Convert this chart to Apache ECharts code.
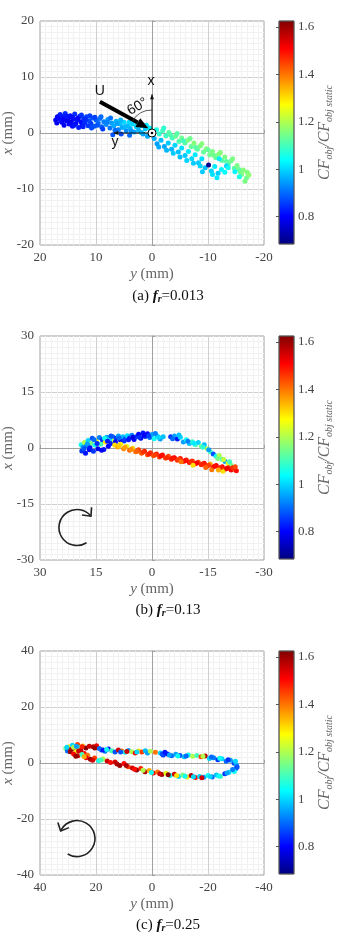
<!DOCTYPE html>
<html>
<head>
<meta charset="utf-8">
<script src="https://cdn.jsdelivr.net/npm/echarts@6/dist/echarts.min.js"></script>
<style>
  html, body { margin: 0; padding: 0; background: #fff; }
  #chart { width: 337px; height: 932px; }
</style>
</head>
<body>
<div id="chart"></div>
<script>
// [y (mm), x (mm), CF/CF static]
const pointsA = [
  [17.2,2.3,0.80],[17.0,1.8,0.79],[16.6,2.6,0.81],[16.4,3.3,0.83],[16.1,1.9,0.80],[15.9,2.9,0.82],[15.7,1.4,0.79],
  [15.5,3.5,0.84],[15.3,2.2,0.80],[15.0,2.7,0.81],[14.8,1.6,0.80],[14.6,3.1,0.82],[14.4,2.0,0.79],[14.2,1.2,0.81],
  [14.0,2.6,0.80],[13.8,3.4,0.84],[13.6,1.7,0.80],[13.4,2.3,0.82],[13.1,1.0,0.83],[12.9,3.0,0.84],[12.7,2.0,0.81],
  [12.5,1.4,0.82],[12.2,2.6,0.85],[12.0,1.8,0.84],[11.7,2.9,0.86],[11.4,1.3,0.85],[11.2,2.2,0.87],[10.9,1.7,0.86],
  [10.6,2.7,0.88],[10.3,1.2,0.88],[10.0,2.3,0.89],[9.6,1.8,0.90],[9.3,2.6,0.91],[9.0,1.1,0.89],[8.6,2.0,0.92],
  [8.2,1.5,0.93],[7.9,2.4,0.94],[7.5,0.9,0.91],[7.2,1.8,0.95],[6.8,1.3,0.96],[6.4,2.1,0.97],[6.0,0.6,0.92],
  [5.7,1.6,0.98],[5.3,1.0,0.96],[5.0,1.9,1.00],[4.6,0.4,0.93],[4.3,1.3,0.98],[3.9,0.8,0.97],[3.5,1.6,1.00],
  [3.2,0.2,0.95],[2.8,1.1,0.99],[2.4,0.5,0.97],[2.0,1.3,1.01],[1.6,-0.2,0.95],[1.2,0.7,0.99],[0.8,-0.6,0.96],
  [0.4,0.9,1.02],[7.0,-0.3,0.88],[5.5,-0.2,0.87],[4.0,-0.4,0.90],
  [16.9,2.9,0.80],[16.2,2.2,0.81],[15.8,2.4,0.80],[15.2,3.0,0.82],[14.9,2.1,0.79],[14.3,2.8,0.81],[13.9,1.4,0.82],
  [13.2,2.7,0.80],[12.6,3.2,0.85],[12.3,1.1,0.83],[11.9,2.4,0.84],[11.1,3.1,0.86],[10.8,0.9,0.87],[10.2,2.8,0.86],
  [9.8,1.4,0.88],[9.1,2.9,0.90],[8.8,0.7,0.86],[8.0,1.9,0.92],[7.4,2.7,0.91],[6.6,0.5,0.90],[6.2,1.7,0.95],
  [5.6,2.3,0.97],[4.8,1.1,0.97],[4.1,1.9,1.00],[3.7,0.3,0.94],[2.6,1.6,1.00],[1.9,0.1,0.97],[1.0,1.4,1.01],
  [-0.8,0.6,1.06],[-1.3,-0.2,1.08],[-1.9,0.4,1.10],[-2.5,-0.5,1.09],[-3.0,0.1,1.12],[-3.6,-0.9,1.10],[-4.2,-0.6,1.13],
  [-4.8,-1.5,1.11],[-5.3,-0.9,1.14],[-5.9,-1.8,1.12],[-6.4,-1.3,1.15],[-7.0,-2.4,1.13],[-7.5,-1.8,1.16],[-8.1,-2.9,1.12],
  [-8.6,-2.3,1.15],[-9.2,-3.4,1.13],[-9.7,-2.8,1.16],[-10.3,-3.9,1.14],[-10.8,-3.3,1.15],[-11.4,-4.4,1.13],[-11.9,-3.8,1.16],
  [-12.5,-4.9,1.12],[-13.0,-4.3,1.15],[-13.6,-5.6,1.11],[-14.1,-5.0,1.14],[-14.7,-6.3,1.12],[-15.2,-5.8,1.15],[-15.8,-7.0,1.13],
  [-16.3,-6.6,1.16],[-16.9,-8.0,1.14],[-17.3,-7.5,1.17],[-16.6,-8.6,1.15],
  [-2.1,0.9,1.08],[-3.3,-0.3,1.11],[-4.5,-0.1,1.12],[-5.6,-1.4,1.10],[-6.8,-1.0,1.14],[-7.8,-2.6,1.12],[-8.9,-1.9,1.16],
  [-10.0,-3.0,1.13],[-11.1,-4.0,1.14],[-12.2,-3.5,1.16],[-13.3,-5.1,1.12],[-14.4,-4.6,1.15],[-15.5,-6.5,1.13],[-16.0,-7.4,1.15],
  [-17.0,-7.0,1.16],[-12.0,-4.6,1.02],[-13.3,-5.9,1.00],[-14.8,-6.9,1.03],[-15.6,-7.8,1.06],
  [-0.4,-1.0,0.97],[-0.9,-1.9,0.95],[-1.6,-1.3,0.98],[-2.2,-2.4,0.96],[-2.9,-1.8,0.99],[-3.5,-2.9,0.97],[-4.1,-2.2,1.00],
  [-4.7,-3.4,0.98],[-5.3,-2.7,1.01],[-5.9,-4.0,0.99],[-6.5,-3.3,1.02],[-7.1,-4.6,1.00],[-7.7,-3.9,1.02],[-8.3,-5.3,0.99],
  [-8.9,-4.6,1.01],[-9.5,-6.2,0.98],[-10.1,-5.7,0.70],[-10.6,-6.8,1.00],[-11.2,-6.0,1.02],[-11.8,-7.2,0.99],[-12.4,-6.5,1.03],
  [-13.0,-7.0,1.04],[-13.6,-6.2,1.05],
  [-1.2,-2.5,0.96],[-2.6,-3.1,0.97],[-3.8,-3.6,0.99],[-5.0,-4.3,0.98],[-6.2,-4.9,1.00],[-7.4,-5.4,0.99],[-8.6,-5.9,1.00],
  [-9.0,-6.9,0.99],[-10.8,-7.4,1.01],[-11.6,-8.0,1.02]
];
const pointsB = [
  [19.0,0.9,1.05],[18.8,-0.8,0.85],[18.5,0.3,0.95],[18.1,1.5,1.20],[17.8,-1.4,0.82],[17.5,0.6,0.90],[17.1,2.0,1.00],
  [16.8,-0.5,0.80],[16.4,1.2,1.15],[16.0,2.6,0.88],[15.7,-0.9,0.85],[15.3,0.8,1.05],[14.9,1.9,1.25],[14.5,-0.2,0.78],
  [14.1,2.8,0.92],[13.7,1.0,1.10],[13.3,2.2,0.85],[12.9,-0.4,0.82],[12.5,1.6,1.30],[12.1,2.9,0.95],[11.7,0.5,0.80],
  [11.3,2.4,1.00],[10.9,1.2,0.83],[10.5,3.0,0.90],[10.1,2.0,1.20],
  [18.2,-0.2,0.88],[17.3,1.1,0.95],[16.6,0.1,0.82],[15.5,2.2,0.90],[14.7,1.2,0.84],[13.5,-0.6,0.80],[12.7,2.6,1.05],
  [11.9,1.8,0.82],[11.0,3.2,0.88],
  [9.6,2.6,0.85],[9.0,3.2,0.95],[8.4,2.1,0.80],[7.8,3.0,0.98],[7.2,2.5,0.88],[6.6,3.3,1.00],[6.0,2.7,0.83],
  [5.4,3.4,0.92],[4.8,2.3,0.80],[4.2,3.0,0.86],[3.6,3.7,0.80],[3.0,2.6,0.78],[2.4,4.0,0.82],[1.8,3.1,0.85],
  [1.2,3.8,0.80],[0.6,2.8,0.90],[0.0,3.6,0.95],[-0.6,2.5,1.05],[-1.4,3.2,1.00],[-2.2,2.4,0.95],[-3.0,3.0,0.98],
  [9.8,1.6,0.80],[8.8,2.7,0.90],[7.5,1.9,0.85],[6.3,2.2,0.82],[5.1,2.9,0.78],[3.3,2.9,0.84],[2.1,3.4,0.80],
  [0.9,3.3,0.86],[-0.9,3.9,0.92],[-1.8,2.9,1.00],
  [-5.0,3.0,0.85],[-6.0,3.2,0.95],[-6.8,2.4,0.82],[-7.6,2.9,1.00],[-8.4,1.6,0.95],[-9.2,2.2,1.05],[-10.0,1.2,0.98],
  [-10.8,1.7,1.08],[-11.6,0.9,1.10],[-12.4,1.5,1.00],[-13.2,0.4,1.15],[-14.0,0.9,0.98],[-14.8,-0.2,1.20],[-15.6,-1.0,1.10],
  [-16.4,-1.6,0.88],[-17.2,-2.2,1.05],[-18.0,-2.0,1.20],[-18.8,-3.0,1.10],[-19.6,-3.6,0.95],[-20.4,-4.1,1.25],[-21.2,-4.6,1.15],
  [-5.5,2.5,0.90],[-7.2,3.5,0.98],[-9.6,1.8,0.92],[-11.2,1.3,1.02],[-13.6,0.2,1.08],[-15.2,-0.5,0.95],[-17.6,-2.8,1.15],
  [-19.2,-3.1,1.22],[-20.8,-3.7,1.10],
  [10.0,0.8,1.30],[9.2,0.3,1.35],[8.4,1.0,1.28],[7.6,-0.2,1.38],[6.8,0.5,1.25],[6.0,-0.6,1.42],[5.2,-0.1,1.32],
  [4.4,-1.0,1.40],[3.6,-0.5,1.45],[2.8,-1.4,1.42],[2.0,-0.9,1.48],[1.2,-1.8,1.44],[0.4,-1.3,1.46],[-0.4,-2.1,1.43],
  [-1.2,-1.6,1.48],[-2.0,-2.4,1.45],[-2.8,-1.9,1.50],[-3.6,-2.7,1.46],[-4.4,-2.2,1.44],[-5.2,-3.0,1.48],[-6.0,-2.6,1.50],
  [-6.8,-3.3,1.46],[-7.6,-2.8,1.49],[-8.4,-3.6,1.45],[-9.2,-3.2,1.48],[-10.0,-3.9,1.50],[-10.8,-3.5,1.46],[-11.6,-4.2,1.49],
  [-12.4,-3.8,1.44],[-13.2,-4.5,1.47],[-14.0,-4.1,1.50],[-14.8,-4.8,1.46],[-15.6,-4.3,1.35],[-16.4,-5.1,1.48],[-17.2,-4.7,1.52],
  [-18.0,-5.4,1.47],[-18.8,-5.0,1.50],[-19.6,-5.7,1.45],[-20.4,-5.3,1.49],[-21.2,-5.9,1.51],[-22.0,-5.6,1.46],[-22.6,-6.1,1.50],
  [-19.0,-6.2,1.30],[-16.0,-5.8,1.40],
  [8.8,0.6,1.32],[7.2,0.2,1.36],[5.6,-0.4,1.38],[4.0,-0.9,1.42],[2.4,-1.1,1.46],[0.8,-1.6,1.48],[-0.8,-1.8,1.45],
  [-2.4,-2.1,1.50],[-4.0,-2.6,1.47],[-5.6,-2.7,1.49],[-7.2,-3.0,1.45],[-8.8,-3.4,1.50],[-10.4,-3.7,1.47],[-12.0,-4.0,1.51],
  [-13.6,-4.3,1.48],[-15.2,-4.6,1.45],[-16.8,-4.9,1.50],[-18.4,-5.2,1.48],[-20.0,-5.5,1.52],[-21.6,-5.3,1.47],[-22.3,-5.0,1.44],
  [-17.8,-5.9,1.35],[-14.4,-5.2,1.42],[-11.0,-4.6,1.30],[-7.8,-3.7,1.40]
];
const pointsC = [
  [30.8,5.2,1.15],[30.2,4.3,0.90],[29.6,5.8,1.30],[29.0,4.8,1.55],[28.4,6.3,1.00],[27.8,5.2,1.60],[27.2,4.0,1.25],
  [26.6,6.6,1.45],[26.0,5.5,1.10],[25.4,4.5,1.58],[24.8,6.1,1.35],[24.2,3.4,1.50],[23.6,5.4,1.62],[23.0,2.8,1.40],
  [22.4,6.0,1.55],[21.0,5.8,1.58],[19.8,6.2,1.52],[18.0,4.6,0.85],[16.8,4.2,0.92],[15.6,5.0,0.80],[14.4,4.4,1.10],
  [13.2,3.9,0.88],[12.0,4.6,1.55],[10.8,4.3,1.40],[9.6,3.8,1.05],[8.4,4.5,0.95],[7.2,4.0,1.20],[6.0,3.6,1.50],
  [4.8,4.3,1.30],[3.6,3.9,1.45],[2.4,4.4,0.98],[1.6,3.6,0.95],[0.6,4.2,1.20],[-1.2,3.8,1.40],
  [-3.0,3.6,1.00],[-4.0,2.9,0.85],[-5.5,3.2,0.82],[-7.0,2.6,0.90],
  [-8.5,3.1,0.95],[-10.0,2.7,0.88],[-11.5,2.2,0.98],[-13.0,2.9,1.05],[-14.5,2.4,1.20],[-16.0,2.7,1.10],[-17.5,2.2,1.45],
  [-19.0,2.5,1.58],[-20.5,1.6,1.00],[-22.0,1.9,0.92],[-23.5,1.2,0.85],[-25.0,1.5,1.00],[-26.5,0.6,0.90],[-28.0,1.0,0.95],
  [-29.3,-0.1,0.88],[-30.2,-0.8,0.95],[-30.0,-2.0,0.90],[-29.4,-3.0,1.05],
  [30.4,5.6,1.00],[29.2,4.0,1.60],[28.0,5.6,1.20],[27.0,6.0,0.95],[26.2,4.3,1.55],[25.0,5.8,1.48],[20.4,5.4,1.60],
  [18.8,5.2,0.90],[17.4,4.6,0.82],[16.2,4.8,1.05],[11.2,3.9,0.88],[9.0,4.1,1.55],[5.4,3.9,1.00],[-3.6,3.2,0.88],
  [-4.6,3.8,0.82],[-6.2,2.9,0.95],[-9.2,2.5,1.05],[-12.2,2.5,0.90],[-18.2,2.4,1.20],[-21.2,2.1,0.90],[-24.2,1.7,1.05],
  [-27.2,1.2,0.85],[-29.8,0.6,1.00],[-30.4,-1.4,0.88],
  [28.0,3.2,1.50],[26.5,2.6,1.55],[25.0,3.0,1.10],[23.5,1.9,1.52],[22.0,1.3,1.60],[20.5,1.8,1.45],[19.0,0.9,1.05],
  [17.5,1.4,1.20],[16.0,0.7,1.55],[14.8,0.2,1.50],[13.2,0.4,1.55],[12.5,-0.4,1.58],[11.5,-0.9,1.60],[10.0,-0.2,1.50],
  [8.5,-1.3,1.45],[7.0,-1.8,1.55],[5.5,-2.5,1.62],[4.0,-2.0,1.48],[2.5,-3.1,1.58],[1.0,-2.7,1.35],[-0.5,-3.6,1.50],
  [-2.0,-3.2,1.40],[-3.5,-4.1,1.60],[-5.0,-3.7,1.25],[-6.5,-4.5,1.05],[-8.0,-4.0,1.55],[-9.5,-4.8,1.00],[-11.0,-4.3,1.15],
  [-12.5,-5.0,1.30],[-14.0,-4.5,1.58],[-15.5,-5.2,1.50],[-17.0,-4.8,1.00],[-18.5,-5.1,0.95],[-20.0,-4.5,1.05],[-21.5,-5.0,0.90],
  [-23.0,-4.3,0.98],[-24.5,-4.7,1.10],[-26.0,-3.8,0.85],[-27.5,-3.3,1.00],[-28.8,-2.3,0.92],
  [27.2,2.4,1.60],[24.2,2.2,1.35],[21.2,1.0,1.55],[18.2,1.1,1.10],[9.2,-0.9,1.58],[6.2,-2.2,1.50],[3.2,-2.6,1.20],
  [0.2,-3.4,1.05],[-2.8,-3.8,1.55],[-5.8,-4.2,1.62],[-8.8,-4.5,1.30],[-11.8,-4.7,1.05],[-14.8,-4.9,1.00],[-17.8,-5.3,1.55],
  [-20.8,-4.8,1.00],[-23.8,-4.6,1.05],[-26.8,-3.6,0.95]
];

const axisLimits = [20, 30, 40];
const axisSteps = [10, 15, 20];
const captionTags = ['(a) ', '(b) ', '(c) '];
const captionValues = ['=0.013', '=0.13', '=0.25'];
const cbTicks = [0.8, 1, 1.2, 1.4, 1.6];
const cfMin = 0.685, cfMax = 1.625;
const jet = ['#00007f', '#0000ff', '#007fff', '#00ffff', '#7fff7f', '#ffff00', '#ff7f00', '#ff0000', '#7f0000'];

// sketch in panel (a): flow arrow U, local x / y arrows
const uArrow = [[9.3, 5.6], [0.66, 0.84]];
const xArrow = [[0, 0.6], [0, 6.9]];
const yArrow = [[-0.6, 0], [6.9, 0]];
// rotation sense arrows in panels (b) and (c): centre in data units
const rotCentres = [null, [20.1, -21.3], [26.8, -27]];

const SERIF = '"Liberation Serif", "DejaVu Serif", serif';
const SANS = '"Liberation Sans", Arial, sans-serif';
const tops = [21, 336, 651];
const PLOT_H = 224;

const chart = echarts.init(document.getElementById('chart'));
const grids = [], xAxes = [], yAxes = [], series = [];
const allPoints = [pointsA, pointsB, pointsC];

for (let i = 0; i < 3; i++) {
  const lim = axisLimits[i], step = axisSteps[i];
  grids.push({ left: 40, top: tops[i], width: 224, height: PLOT_H, show: true, borderColor: '#a0a0a0', borderWidth: 1,
    outerBoundsMode: 'none', containLabel: false });
  const common = {
    gridIndex: i, type: 'value', min: -lim, max: lim, interval: step,
    nameLocation: 'middle', nameMoveOverlap: false,
    nameTextStyle: { fontFamily: SERIF, fontSize: 15, color: '#666',
      rich: { i: { fontFamily: SERIF, fontStyle: 'italic', fontSize: 15, color: '#666' } } },
    axisLine: { lineStyle: { color: '#a0a0a0' } },
    axisTick: { inside: true, length: 3, lineStyle: { color: '#a0a0a0' } },
    axisLabel: { fontFamily: SERIF, fontSize: 13, color: '#444', margin: 6 },
    splitLine: { lineStyle: { color: '#cfcfcf' } },
    minorTick: { show: false, splitNumber: 10 },
    minorSplitLine: { show: true, lineStyle: { color: '#f1f1f1' } }
  };
  xAxes.push(Object.assign({}, common, { inverse: true, name: '{i|y} (mm)', nameGap: 22 }));
  yAxes.push(Object.assign({}, common, { name: '{i|x} (mm)', nameGap: 24 }));
  series.push({
    type: 'scatter', xAxisIndex: i, yAxisIndex: i, data: allPoints[i],
    symbolSize: 5, itemStyle: { opacity: 1 }
  });
}

// colorbars
for (let i = 0; i < 3; i++) {
  grids.push({ left: 279, top: tops[i], width: 15, height: PLOT_H - 1, outerBoundsMode: 'none', containLabel: false });
  xAxes.push({ gridIndex: 3 + i, type: 'value', min: 0, max: 1, show: false });
  yAxes.push({
    gridIndex: 3 + i, type: 'value', min: cfMin, max: cfMax, position: 'right',
    splitLine: { show: false }, axisLine: { show: false },
    axisTick: { show: true, inside: true, length: 3, customValues: cbTicks, lineStyle: { color: '#555' } },
    axisLabel: { customValues: cbTicks, fontFamily: SERIF, fontSize: 13, color: '#444', margin: 4,
      formatter: v => String(+v.toFixed(1)) },
    name: '{i|CF}{s|obj}{i|/CF}{s|obj static}',
    nameLocation: 'middle', nameRotate: 90, nameGap: 22, nameMoveOverlap: false,
    nameTextStyle: { rich: {
      i: { fontFamily: SERIF, fontStyle: 'italic', fontSize: 16, color: '#666', lineHeight: 18 },
      s: { fontFamily: SERIF, fontStyle: 'italic', fontSize: 10, color: '#666', verticalAlign: 'bottom', lineHeight: 11 }
    } }
  });
  series.push({
    type: 'custom', xAxisIndex: 3 + i, yAxisIndex: 3 + i, silent: true,
    data: [[0, cfMin, cfMax]],
    renderItem: (params, api) => {
      const p0 = api.coord([0, api.value(2)]);
      const p1 = api.coord([1, api.value(1)]);
      return {
        type: 'rect',
        shape: { x: p0[0], y: p0[1], width: p1[0] - p0[0], height: p1[1] - p0[1] },
        style: {
          fill: new echarts.graphic.LinearGradient(0, 1, 0, 0, jet.map((c, k) => ({ offset: k / (jet.length - 1), color: c }))),
          stroke: '#555', lineWidth: 0.8
        }
      };
    }
  });
}

chart.setOption({
  animation: false,
  grid: grids, xAxis: xAxes, yAxis: yAxes, series: series,
  visualMap: { type: 'continuous', show: false, min: cfMin, max: cfMax, dimension: 2, seriesIndex: [0, 1, 2],
    inRange: { color: jet } }
});

// annotations placed through the panel's own axes
const px = (i, p) => chart.convertToPixel({ xAxisIndex: i, yAxisIndex: i }, p);
const graphics = [];

function arrowHead(tip, dir, len, spread) {
  const b = [-dir[0], -dir[1]];
  const rot = a => [tip[0] + len * (b[0] * Math.cos(a) - b[1] * Math.sin(a)), tip[1] + len * (b[0] * Math.sin(a) + b[1] * Math.cos(a))];
  return [rot(spread), tip, rot(-spread)];
}
function unit(a, b) { const dx = b[0] - a[0], dy = b[1] - a[1], l = Math.hypot(dx, dy); return [dx / l, dy / l]; }

// U arrow
{
  const s = px(0, uArrow[0]), t = px(0, uArrow[1]);
  const d = unit(s, t);
  const headLen = 12, headW = 5;
  const base = [t[0] - d[0] * headLen, t[1] - d[1] * headLen];
  graphics.push({ type: 'line', z: 10, shape: { x1: s[0], y1: s[1], x2: base[0], y2: base[1] }, style: { stroke: '#000', lineWidth: 4 } });
  graphics.push({ type: 'polygon', z: 10, shape: { points: [t, [base[0] - d[1] * headW, base[1] + d[0] * headW], [base[0] + d[1] * headW, base[1] - d[0] * headW]] }, style: { fill: '#000' } });
  const lp = px(0, [9.3, 7.4]);
  graphics.push({ type: 'text', z: 10, style: { text: 'U', x: lp[0], y: lp[1], align: 'center', verticalAlign: 'middle', font: '14px ' + SANS, fill: '#111' } });
}
// x and y thin arrows
[[xArrow, 'x', [0.2, 9.3]], [yArrow, 'y', [6.6, -1.6]]].forEach(([arr, lab, lpos]) => {
  const s = px(0, arr[0]), t = px(0, arr[1]);
  const d = unit(s, t);
  graphics.push({ type: 'line', z: 10, shape: { x1: s[0], y1: s[1], x2: t[0], y2: t[1] }, style: { stroke: '#111', lineWidth: 1 } });
  const base = [t[0] - d[0] * 5, t[1] - d[1] * 5];
  graphics.push({ type: 'polygon', z: 10, shape: { points: [t, [base[0] - d[1] * 2, base[1] + d[0] * 2], [base[0] + d[1] * 2, base[1] - d[0] * 2]] }, style: { fill: '#111' } });
  const lp = px(0, lpos);
  graphics.push({ type: 'text', z: 10, style: { text: lab, x: lp[0], y: lp[1], align: 'center', verticalAlign: 'middle', font: '14px ' + SANS, fill: '#111' } });
});
// 60 degree arc
{
  const o = px(0, [0, 0]), s = px(0, uArrow[0]);
  const aU = Math.atan2(s[1] - o[1], s[0] - o[0]);
  graphics.push({ type: 'arc', z: 10, shape: { cx: o[0], cy: o[1], r: 23, startAngle: aU, endAngle: -Math.PI / 2, clockwise: true }, style: { stroke: '#333', lineWidth: 0.8, fill: null } });
  const tp = px(0, [2.6, 4.7]);
  graphics.push({ type: 'text', z: 10, x: tp[0], y: tp[1], rotation: Math.PI / 6, style: { text: '60°', x: 0, y: 0, align: 'center', verticalAlign: 'middle', font: '14px ' + SANS, fill: '#111' } });
  graphics.push({ type: 'circle', z: 11, shape: { cx: o[0], cy: o[1], r: 4 }, style: { fill: '#fff', stroke: '#000', lineWidth: 1 } });
  graphics.push({ type: 'circle', z: 12, shape: { cx: o[0], cy: o[1], r: 1.3 }, style: { fill: '#000' } });
}
// rotation arrows
[[1, 58, 321, true], [2, 121, -155, false]].forEach(([i, a0, a1, cw]) => {
  const c = px(i, rotCentres[i]);
  const r = 18, sa = a0 * Math.PI / 180, ea = a1 * Math.PI / 180;
  graphics.push({ type: 'arc', z: 10, shape: { cx: c[0], cy: c[1], r: r, startAngle: sa, endAngle: ea, clockwise: cw }, style: { stroke: '#222', lineWidth: 1.6, fill: null } });
  const tip = [c[0] + r * Math.cos(ea), c[1] + r * Math.sin(ea)];
  const d = cw ? [-Math.sin(ea), Math.cos(ea)] : [Math.sin(ea), -Math.cos(ea)];
  graphics.push({ type: 'polyline', z: 10, shape: { points: arrowHead(tip, d, 9, 0.75) }, style: { stroke: '#222', lineWidth: 1.6, fill: null } });
});
// captions
const capY = [296, 610, 925];
for (let i = 0; i < 3; i++) {
  graphics.push({ type: 'text', z: 10, style: {
    text: '{n|' + captionTags[i] + '}{f|f}{r|r}{n|' + captionValues[i] + '}',
    x: 168, y: capY[i], align: 'center', verticalAlign: 'middle',
    rich: {
      n: { fontFamily: SERIF, fontSize: 15, fill: '#111', lineHeight: 17 },
      f: { fontFamily: SERIF, fontSize: 15, fontStyle: 'italic', fontWeight: 'bold', fill: '#111', lineHeight: 17 },
      r: { fontFamily: SERIF, fontSize: 10, fontStyle: 'italic', fontWeight: 'bold', fill: '#111', verticalAlign: 'bottom', lineHeight: 11 }
    }
  } });
}
chart.setOption({ graphic: graphics });
</script>
</body>
</html>
